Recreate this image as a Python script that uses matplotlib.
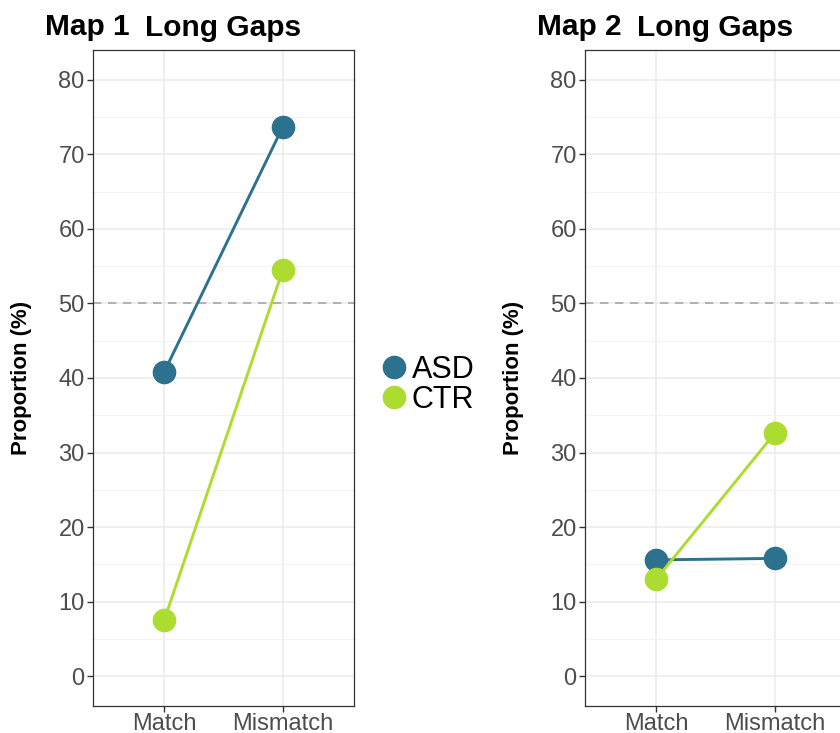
import matplotlib
matplotlib.use('Agg')
import matplotlib.pyplot as plt
from matplotlib.lines import Line2D

plt.rcParams['font.family'] = ['Liberation Sans', 'DejaVu Sans']

condiciones = ['Match', 'Mismatch']
grupos = ['ASD', 'CTR']
colores = ['#2c728e', '#addc30']

mapa1_asd = [40.8, 73.7]
mapa1_ctr = [7.5, 54.5]
mapa2_asd = [15.6, 15.8]
mapa2_ctr = [13.0, 32.6]

mapas = ['Map 1', 'Map 2']
titulo = 'Long Gaps'
valores = [[mapa1_asd, mapa1_ctr], [mapa2_asd, mapa2_ctr]]

fig = plt.figure(figsize=(8.4, 7.33), dpi=100)

posiciones = [93 / 840, 585 / 840]
tags_x = [45 / 840, 537 / 840]

for i in range(2):
    ax = fig.add_axes([posiciones[i], 27 / 733, 261 / 840, 656 / 733])
    xs = list(range(1, len(condiciones) + 1))
    for j in range(len(grupos)):
        ax.plot(xs, valores[i][j], color=colores[j], lw=2.1, marker='o',
                markersize=16, zorder=3, clip_on=False)
    ax.axhline(50, color='#a6a6a6', lw=1.2, ls=(0, (5, 4)), zorder=2)

    ax.set_xlim(0.4, 2.6)
    ax.set_ylim(-4, 84)
    ax.set_xticks(xs)
    ax.set_xticklabels(condiciones)
    ax.set_yticks(range(0, 81, 10))
    ax.set_yticks(range(5, 80, 10), minor=True)
    ax.grid(True, which='major', color='#ebebeb', lw=1.1, zorder=0)
    ax.grid(True, which='minor', axis='y', color='#f3f3f3', lw=0.8, zorder=0)
    ax.set_axisbelow(True)
    ax.tick_params(axis='both', which='major', labelsize=17, labelcolor='#4d4d4d',
                   color='#333333', length=4, width=1, pad=2)
    ax.tick_params(axis='x', which='major', pad=1)
    ax.tick_params(axis='y', which='minor', length=0)
    for s in ax.spines.values():
        s.set_color('#333333')
        s.set_linewidth(0.9)
    ax.set_ylabel('Proportion (%)', fontsize=16, fontweight='bold')
    ax.yaxis.set_label_coords(-0.235, 0.5)
    ax.set_title(titulo, fontsize=21.5, fontweight='bold', pad=10)
    fig.text(tags_x[i], 1 - 27 / 733, mapas[i], fontsize=21.5, fontweight='bold',
             ha='left', va='center')

handles = [Line2D([], [], ls='none', marker='o', markersize=16, color=c) for c in colores]
fig.legend(handles, grupos, loc='center left', bbox_to_anchor=(363 / 840, 1 - 385 / 733),
           frameon=False, fontsize=22, handletextpad=0.0, labelspacing=0.0,
           handlelength=1.2, borderaxespad=0)

fig.savefig('out.png', dpi=100)
